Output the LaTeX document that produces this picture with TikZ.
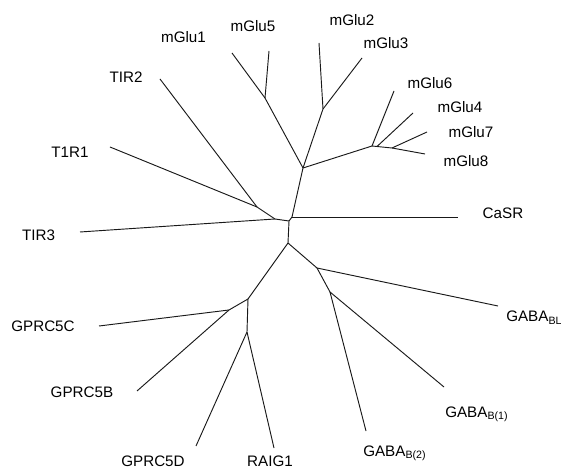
\documentclass[tikz,border=0pt]{standalone}
\usepackage{fontspec}
\setmainfont{Liberation Sans}
\begin{document}
\begin{tikzpicture}[x=0.75pt,y=-0.75pt,
  br/.style={line width=0.7pt, line join=round, draw=black!90},
  lab/.style={font=\fontsize{11.4}{13.5}\selectfont, inner sep=0pt}]
\useasboundingbox (0,0) rectangle (561,470);
\fill[white] (0,0) rectangle (561,470);
% internal junctions
\coordinate (C) at (289,221);
\coordinate (N) at (292,217);
\coordinate (M) at (303,168);
\coordinate (J15) at (265,98);
\coordinate (J23) at (323,109);
\coordinate (J6) at (372,146);
\coordinate (J4) at (377,146.5);
\coordinate (J78) at (392,148);
\coordinate (J0) at (275,219);
\coordinate (J1) at (257,207);
\coordinate (L) at (288,243);
\coordinate (J5) at (248,299);
\coordinate (J5C) at (229,310);
\coordinate (JD) at (247,332);
\coordinate (JBL) at (317,268);
\coordinate (JB12) at (330,292);
% tips
\coordinate (tG1) at (232,53);
\coordinate (tG5) at (269,51);
\coordinate (tG2) at (319,43);
\coordinate (tG3) at (362,58);
\coordinate (tG6) at (394,91);
\coordinate (tG4) at (413,113);
\coordinate (tG7) at (427,132);
\coordinate (tG8) at (425,154);
\coordinate (tCa) at (458,217);
\coordinate (tT2) at (160,79);
\coordinate (tT1) at (110,147);
\coordinate (tT3) at (80,232);
\coordinate (t5C) at (99,326);
\coordinate (t5B) at (137,391);
\coordinate (t5D) at (196,446);
\coordinate (tRA) at (274,448);
\coordinate (tB2) at (366,431);
\coordinate (tB1) at (444,387);
\coordinate (tBL) at (498,306);
% branches
\draw[br] (C) -- (N) -- (M);
\draw[br] (N) -- (tCa);
\draw[br] (M) -- (J15) -- (tG1);
\draw[br] (J15) -- (tG5);
\draw[br] (M) -- (J23) -- (tG2);
\draw[br] (J23) -- (tG3);
\draw[br] (M) -- (J6) -- (tG6);
\draw[br] (J6) -- (J4) -- (tG4);
\draw[br] (J4) -- (J78) -- (tG8);
\draw[br] (J78) -- (tG7);
\draw[br] (C) -- (J0) -- (tT3);
\draw[br] (J0) -- (J1) -- (tT1);
\draw[br] (J1) -- (tT2);
\draw[br] (C) -- (L);
\draw[br] (L) -- (J5) -- (J5C) -- (t5C);
\draw[br] (J5C) -- (t5B);
\draw[br] (J5) -- (JD) -- (t5D);
\draw[br] (JD) -- (tRA);
\draw[br] (L) -- (JBL) -- (tBL);
\draw[br] (JBL) -- (JB12) -- (tB1);
\draw[br] (JB12) -- (tB2);
% labels
\node[lab] (lG1) at (183.5,37) {mGlu1};
\node[lab] (lG5) at (253,26) {mGlu5};
\node[lab] (lG2) at (352,20) {mGlu2};
\node[lab] (lG3) at (386,43) {mGlu3};
\node[lab] (lG6) at (430,83) {mGlu6};
\node[lab] (lG4) at (460,107) {mGlu4};
\node[lab] (lG7) at (471,132) {mGlu7};
\node[lab] (lG8) at (466,161) {mGlu8};
\node[lab] (lCa) at (503,213) {CaSR};
\node[lab] (lT2) at (126,77) {TIR2};
\node[lab] (lT1) at (70,152) {T1R1};
\node[lab] (lT3) at (38.5,235) {TIR3};
\node[lab] (l5C) at (43,326) {GPRC5C};
\node[lab] (l5B) at (82,392) {GPRC5B};
\node[lab] (l5D) at (153,461.5) {GPRC5D};
\node[lab] (lRA) at (270,461.5) {RAIG1};
\node[lab,anchor=base west] (lB2) at (363,456) {GABA\textsubscript{B(2)}};
\node[lab,anchor=base west] (lB1) at (445,417) {GABA\textsubscript{B(1)}};
\node[lab,anchor=base west] (lBL) at (506,322) {GABA\textsubscript{BL}};
\end{tikzpicture}
\end{document}
